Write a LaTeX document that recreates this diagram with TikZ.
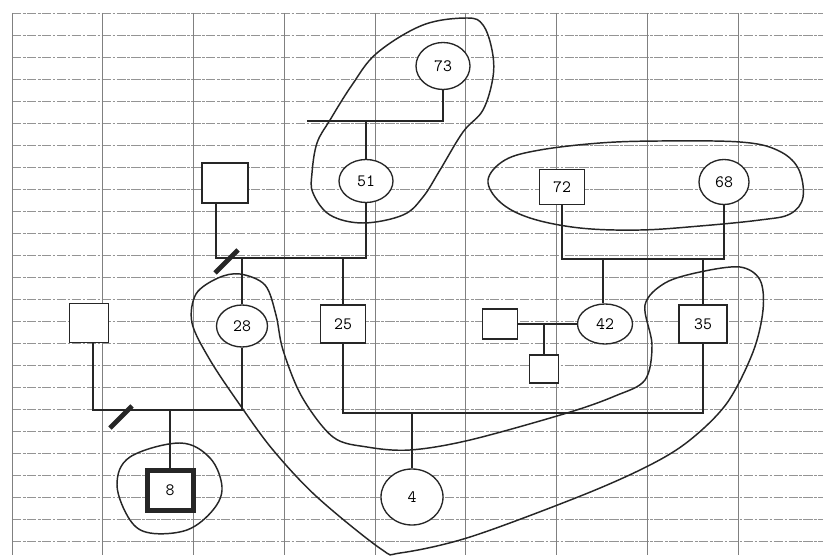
\documentclass[tikz,border=0pt]{standalone}
\usetikzlibrary{shapes.geometric}
\pgfdeclarelayer{bg}
\pgfsetlayers{bg,main}
\begin{document}
\begin{tikzpicture}[x=0.75pt,y=-0.75pt,
  gridv/.style={draw=black!50, line width=0.6pt},
  gridh/.style={draw=black!42, line width=0.55pt, dash pattern=on 7pt off 1.2pt on 2pt off 1pt},
  link/.style={draw=black!85, line width=1pt},
  person/.style={draw=black!85, line width=1pt, inner sep=0pt, fill=white,
                 font=\fontsize{13}{15}\selectfont\ttfamily},
  fem/.style={person, ellipse},
  male/.style={person, rectangle},
  proband/.style={person, rectangle, line width=3.75pt},
  blob/.style={draw=black!85, line width=1.1pt},
  slashmark/.style={draw=black!85, line width=3.6pt},
]
\path[use as bounding box] (0,0) rectangle (823,559);

% nodes
\node[fem]  (n73) at (443,66)  [minimum width=40.5pt, minimum height=35.25pt] {73};
\node[fem]  (n51) at (366,181) [minimum width=40.5pt, minimum height=32.25pt] {51};
\node[male] (sqA) at (225,183) [minimum width=34.5pt, minimum height=30pt] {};
\node[fem]  (n28) at (242,326) [minimum width=38.25pt, minimum height=31.5pt] {28};
\node[male] (n25) at (343,324) [minimum width=33.75pt, minimum height=28.5pt] {25};
\node[male] (n72) at (562,187) [minimum width=33.75pt, minimum height=26.25pt] {72};
\node[fem]  (n68) at (724,182) [minimum width=37.5pt, minimum height=33.75pt] {68};
\node[fem]  (n42) at (605,324) [minimum width=41.25pt, minimum height=30pt] {42};
\node[male] (n35) at (703,324) [minimum width=36pt, minimum height=28.5pt] {35};
\node[male] (sqB) at (500,324) [minimum width=26.25pt, minimum height=22.5pt] {};
\node[male] (sqC) at (544,369) [minimum width=21.75pt, minimum height=21pt] {};
\node[male] (sqD) at (89,323)  [minimum width=29.25pt, minimum height=29.25pt] {};
\node[proband] (n8) at (170,490) [minimum width=34.5pt, minimum height=30pt] {8};
\node[fem]  (n4)  at (412,497) [minimum width=46.5pt, minimum height=42pt] {4};

% junction coordinates
\coordinate (l73) at (307,121);
\coordinate (m1) at (216,258);
\coordinate (m2) at (93,410);
\coordinate (m3) at (411,413);
\coordinate (m4) at (603,259);
\coordinate (s1a) at (215,273);
\coordinate (s1b) at (238,250);
\coordinate (s2a) at (110,428);
\coordinate (s2b) at (132,406);

\begin{pgfonlayer}{bg}
\fill[white] (0,0) rectangle (823,559);
% grid
\foreach \k in {0,...,24} {
  \draw[gridh] (12,{13+22*\k}) -- (823,{13+22*\k});
}
\foreach \k in {0,...,8} {
  \draw[gridv] ({12+90.75*\k},13) -- ({12+90.75*\k},555);
}

% blobs
\draw[blob] plot[smooth cycle, tension=0.6] coordinates {
  (467,18) (483,25) (492,50) (493,77) (483,110) (463,132) (440,170) (423,197)
  (403,215) (363,223) (330,215) (313,193) (312,173) (317,143) (330,120)
  (352,85) (377,53) (423,25)};
\draw[blob] plot[smooth cycle, tension=0.6] coordinates {
  (488,180) (505,160) (540,150) (600,143) (660,141) (740,142) (777,150)
  (798,168) (803,197) (790,214) (760,220) (700,226) (640,230) (580,228)
  (530,218) (500,202)};
\draw[blob] plot[smooth cycle, tension=0.55] coordinates {
  (240,274) (265,285) (276,315) (283,350) (302,397) (333,437) (367,447)
  (410,450) (470,440) (567,413) (615,396) (645,380) (652,345) (645,305)
  (665,283) (700,272) (740,267) (760,280) (763,310) (753,352) (727,403)
  (690,440) (650,465) (583,495) (470,537) (400,553) (381,549) (317,497)
  (273,450) (240,405) (210,360) (192,323) (196,294) (218,278)};
\draw[blob] plot[smooth cycle, tension=0.6] coordinates {
  (180,443) (210,458) (222,487) (213,510) (187,530) (150,533) (130,520)
  (117,485) (130,457)};

% connectors
\draw[link] (n73.south) |- (l73);
\draw[link] (n51.north) -- (n51.north |- l73);
\draw[link] (sqA.south -| m1) -- (m1) -- (n51.south |- m1) -- (n51.south);
\draw[link] (n28.north) -- (n28.north |- m1);
\draw[link] (n25.north) -- (n25.north |- m1);
\draw[link] (sqD.south -| m2) -- (m2) -- (n28.south |- m2) -- (n28.south);
\draw[link] (n8.north) -- (n8.north |- m2);
\draw[link] (n25.south) |- (m3) -- (n35.south |- m3) -- (n35.south);
\draw[link] (n4.north) -- (n4.north |- m3);
\draw[link] (n72.south) -- (n72.south |- m4) -- (n68.south |- m4) -- (n68.south);
\draw[link] (n42.north -| m4) -- (m4);
\draw[link] (n35.north) -- (n35.north |- m4);
\draw[link] (sqB.east) -- (n42.west);
\draw[link] (sqC.north) -- (sqC.north |- sqB.east);
\draw[slashmark] (s1a) -- (s1b);
\draw[slashmark] (s2a) -- (s2b);
\end{pgfonlayer}
\end{tikzpicture}
\end{document}
